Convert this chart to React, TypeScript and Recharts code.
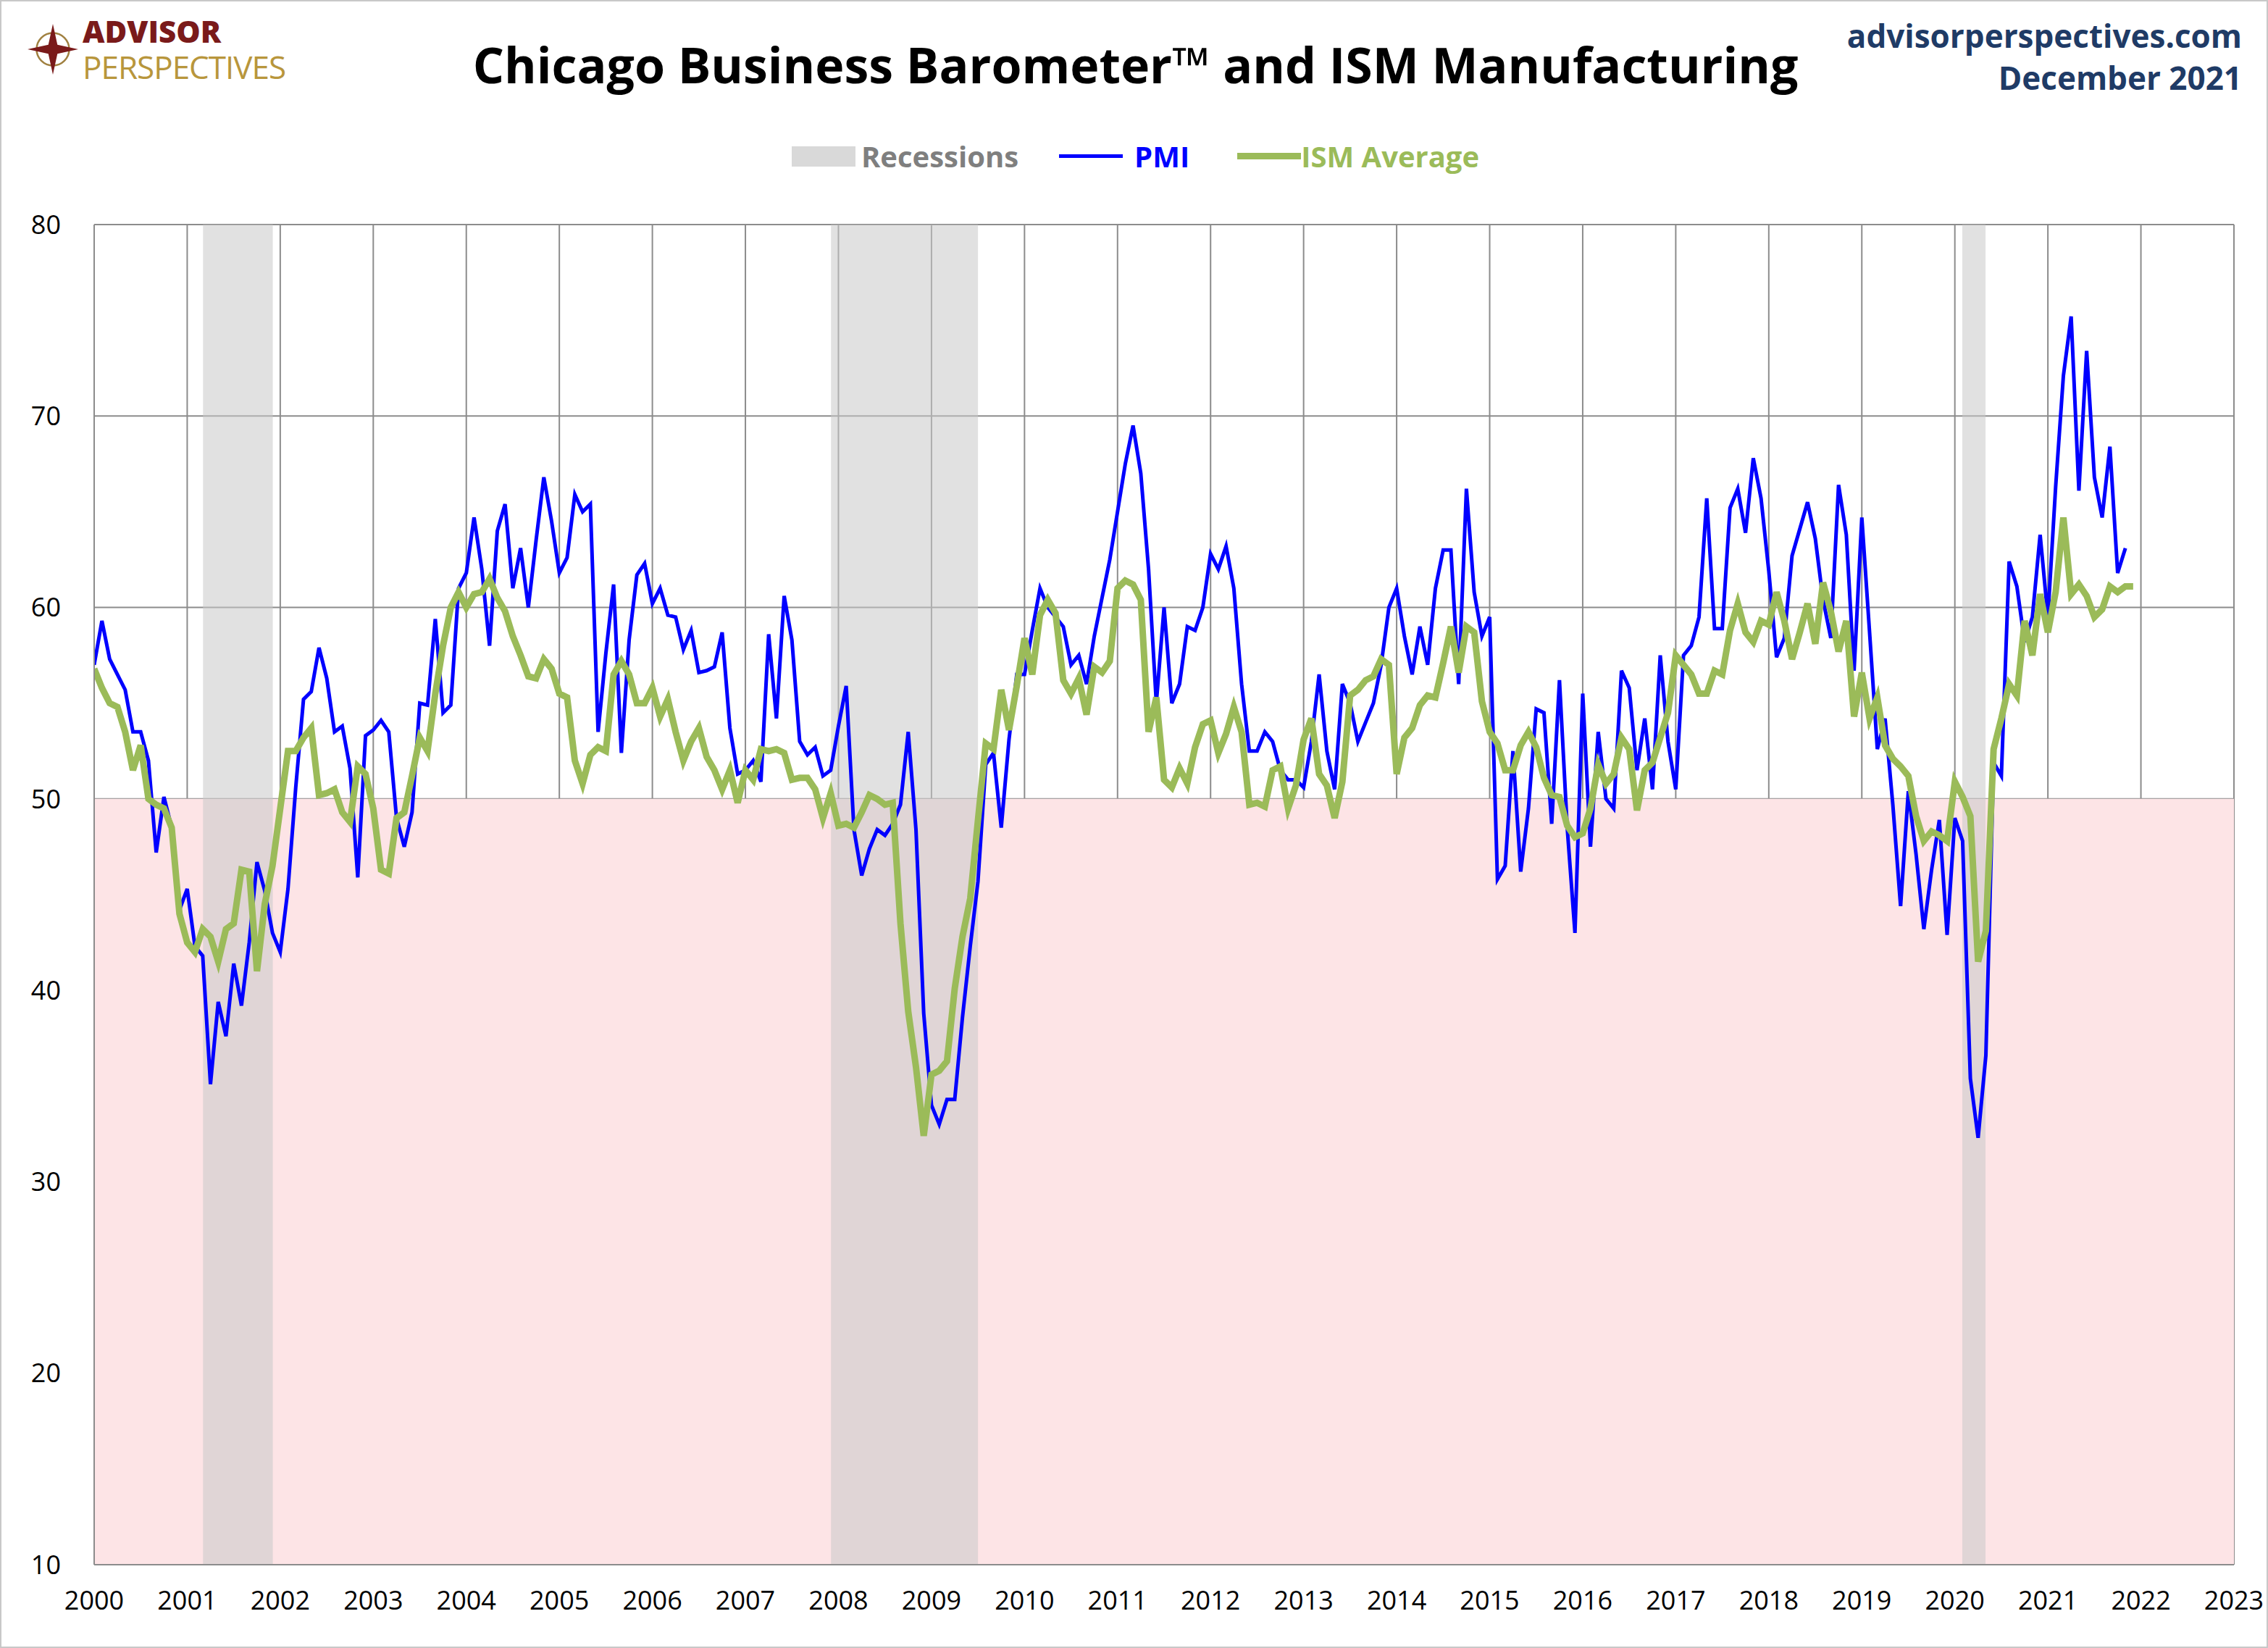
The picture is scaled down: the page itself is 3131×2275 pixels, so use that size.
import React from "react";
import { LineChart, Line, XAxis, YAxis, CartesianGrid, ReferenceArea } from "recharts";

const years = [2000,2001,2002,2003,2004,2005,2006,2007,2008,2009,2010,2011,2012,2013,2014,2015,2016,2017,2018,2019,2020,2021];
const pmi = [
57,59.3,57.3,56.5,55.7,53.5,53.5,52,47.2,50.1,48.5,44.2,
45.3,42.3,41.8,35.1,39.4,37.6,41.4,39.2,42.5,46.7,45.2,43,
42,45.3,50.6,55.2,55.6,57.9,56.3,53.5,53.8,51.6,45.9,53.3,
53.6,54.1,53.5,49,47.5,49.3,55,54.9,59.4,54.5,54.9,61,
61.8,64.7,62,58,64,65.4,61,63.1,60,63.5,66.8,64.5,
61.8,62.6,65.9,65,65.4,53.5,57.6,61.2,52.4,58.3,61.7,62.3,
60.2,61,59.6,59.5,57.8,58.8,56.6,56.7,56.9,58.7,53.7,51.3,
51.5,52,50.9,58.6,54.2,60.6,58.3,53,52.3,52.7,51.2,51.5,
53.8,55.9,48.4,46,47.4,48.4,48.1,48.7,49.7,53.5,48.4,38.8,
34,33,34.3,34.3,38.6,42.3,45.7,51.8,52.4,48.5,53.1,56.5,
56.5,58.8,61,60,59.5,59,57,57.5,56,58.5,60.5,62.5,
65,67.5,69.5,67,62,55,60,55,56,59,58.8,60,
62.8,62,63.2,61,56,52.5,52.5,53.5,53,51.5,51,51,
50.6,53,56.5,52.5,50.5,56,55,53,54,55,57,60,
61,58.5,56.5,59,57,61,63,63,56,66.2,60.8,58.5,
59.5,45.8,46.5,52.5,46.2,49.5,54.7,54.5,48.7,56.2,48.5,43,
55.5,47.5,53.5,50,49.5,56.7,55.8,51.5,54.2,50.5,57.5,53,
50.5,57.5,58,59.5,65.7,58.9,58.9,65.2,66.2,63.9,67.8,65.7,
61.9,57.4,58.4,62.7,64.1,65.5,63.6,60.4,58.4,66.4,63.8,56.7,
64.7,58.7,52.6,54.2,49.7,44.4,50.4,47.1,43.2,46.3,48.9,42.9,
49,47.8,35.4,32.3,36.6,51.9,51.2,62.4,61.1,58.2,59.5,63.8,
59.5,66.3,72.1,75.2,66.1,73.4,66.8,64.7,68.4,61.8,63.1,
];
const ism = [
56.8,55.8,55,54.8,53.5,51.5,52.8,50,49.7,49.5,48.5,44,
42.5,42,43.2,42.8,41.5,43.2,43.5,46.3,46.2,41,44.5,46.5,
49.5,52.5,52.5,53.2,53.7,50.2,50.3,50.5,49.3,48.8,51.7,51.3,
49.5,46.3,46.1,49,49.3,51.2,53.2,52.5,55.5,58,60,60.8,
60,60.7,60.8,61.5,60.5,59.8,58.5,57.5,56.4,56.3,57.3,56.8,
55.5,55.3,52,50.8,52.3,52.7,52.5,56.5,57.2,56.5,55,55,
55.8,54.3,55.2,53.5,52,53,53.7,52.2,51.5,50.5,51.5,49.8,
51.5,51,52.6,52.5,52.6,52.4,51,51.1,51.1,50.5,49,50.3,
48.6,48.7,48.5,49.3,50.2,50,49.7,49.8,43.5,38.9,36,32.4,
35.6,35.8,36.3,40.1,42.8,44.8,48.9,52.9,52.6,55.7,53.6,55.9,
58.4,56.5,59.6,60.4,59.7,56.2,55.5,56.3,54.4,56.9,56.6,57.2,
61,61.4,61.2,60.4,53.5,55.3,51,50.6,51.6,50.8,52.7,53.9,
54.1,52.4,53.4,54.8,53.5,49.7,49.8,49.6,51.5,51.7,49.5,50.7,
53.1,54.2,51.3,50.7,49,50.9,55.4,55.7,56.2,56.4,57.3,57,
51.3,53.2,53.7,54.9,55.4,55.3,57.1,59,56.6,59,58.7,55.1,
53.5,52.9,51.5,51.5,52.8,53.5,52.7,51.1,50.2,50.1,48.6,48,
48.2,49.5,51.8,50.8,51.3,53.2,52.6,49.4,51.5,51.9,53.2,54.5,
57.5,57,56.5,55.5,55.5,56.7,56.5,58.8,60.2,58.7,58.2,59.3,
59.1,60.8,59.3,57.3,58.7,60.2,58.1,61.3,59.8,57.7,59.3,54.3,
56.6,54.2,55.3,52.8,52.1,51.7,51.2,49.1,47.8,48.3,48.1,47.8,
50.9,50.1,49.1,41.5,43.1,52.6,54.2,56,55.4,59.3,57.5,60.7,
58.7,60.8,64.7,60.7,61.2,60.6,59.5,59.9,61.1,60.8,61.1,61.1,
];
const recessions = [[2001.17, 2001.92], [2007.92, 2009.5], [2020.08, 2020.33]];
const xTicks = [2000,2001,2002,2003,2004,2005,2006,2007,2008,2009,2010,2011,2012,2013,2014,2015,2016,2017,2018,2019,2020,2021,2022,2023];
const yTicks = [10,20,30,40,50,60,70,80];

const data: any[] = [];
years.forEach((y, yi) => {
  for (let m = 0; m < 12; m++) {
    const i = yi * 12 + m;
    data.push({ t: y + m / 12, pmi: pmi[i], ism: ism[i] });
  }
});

const F = "'Open Sans', 'Noto Sans', sans-serif";

export default function App() {
  return (
    <div style={{ position: "absolute", left: 0, top: 0, width: 3131, height: 2275, background: "#fff", fontFamily: F, border: "2px solid #c8c8c8", boxSizing: "border-box" }}>
      <LineChart width={3127} height={2271} data={data} margin={{ top: 308, right: 45, bottom: 53, left: 0 }}>
        <ReferenceArea y1={10} y2={50} fill="#fde4e6" fillOpacity={1} stroke="none" />
        {recessions.map((r, i) => (
          <ReferenceArea key={i} x1={r[0]} x2={r[1]} fill="#c8c8c8" fillOpacity={0.55} stroke="none" />
        ))}
        <CartesianGrid stroke="#8c8c8c" strokeWidth={2} />
        <XAxis dataKey="t" type="number" domain={[2000, 2023]} ticks={xTicks} interval={0} allowDataOverflow
          tick={{ fontSize: 36, fill: "#000", fontFamily: F }} tickLine={false} axisLine={{ stroke: "#8c8c8c", strokeWidth: 2 }} height={60} tickMargin={30} />
        <YAxis type="number" domain={[10, 80]} ticks={yTicks} interval={0}
          tick={{ fontSize: 36, fill: "#000", fontFamily: F }} tickLine={false} axisLine={{ stroke: "#8c8c8c", strokeWidth: 2 }} width={128} tickMargin={40} />
        <Line dataKey="pmi" stroke="#0000ff" strokeWidth={5} dot={false} isAnimationActive={false} />
        <Line dataKey="ism" stroke="#9bbb59" strokeWidth={9} dot={false} isAnimationActive={false} />
      </LineChart>
      <div style={{ position: "absolute", left: 0, width: 3131, top: 40, textAlign: "center", fontSize: 68, fontWeight: 700, color: "#000", whiteSpace: "nowrap" }}>
        Chicago Business Barometer™ and ISM Manufacturing
      </div>
      <div style={{ position: "absolute", right: 34, top: 18, textAlign: "right", fontSize: 44, fontWeight: 700, color: "#1f3b66", lineHeight: "58px" }}>
        advisorperspectives.com<br />December 2021
      </div>
      <div style={{ position: "absolute", left: 36, top: 18, display: "flex", alignItems: "center" }}>
        <svg width="70" height="70" viewBox="-28 -28 56 56">
          <circle r="18" fill="none" stroke="#a08040" strokeWidth="2" />
          <polygon points="0,-28 5,-5 28,0 5,5 0,28 -5,5 -28,0 -5,-5" fill="#7a1a1a" />
        </svg>
        <div style={{ marginLeft: 6 }}>
          <div style={{ fontSize: 42, fontWeight: 800, color: "#7a1a1a", lineHeight: "46px", marginBottom: 2 }}>ADVISOR</div>
          <div style={{ fontSize: 44, color: "#b8963c", letterSpacing: -1, lineHeight: "48px" }}>PERSPECTIVES</div>
        </div>
      </div>
      <div style={{ position: "absolute", left: 0, width: 3131, top: 186, display: "flex", justifyContent: "center", alignItems: "center", fontSize: 40, fontWeight: 700 }}>
        <div style={{ width: 88, height: 28, background: "#d9d9d9", marginRight: 8 }} />
        <span style={{ color: "#7f7f7f", marginRight: 56 }}>Recessions</span>
        <div style={{ width: 88, height: 5, background: "#0000ff", marginRight: 16 }} />
        <span style={{ color: "#0000ff", marginRight: 66 }}>PMI</span>
        <div style={{ width: 88, height: 9, background: "#9bbb59" }} />
        <span style={{ color: "#9bbb59" }}>ISM Average</span>
      </div>
    </div>
  );
}
